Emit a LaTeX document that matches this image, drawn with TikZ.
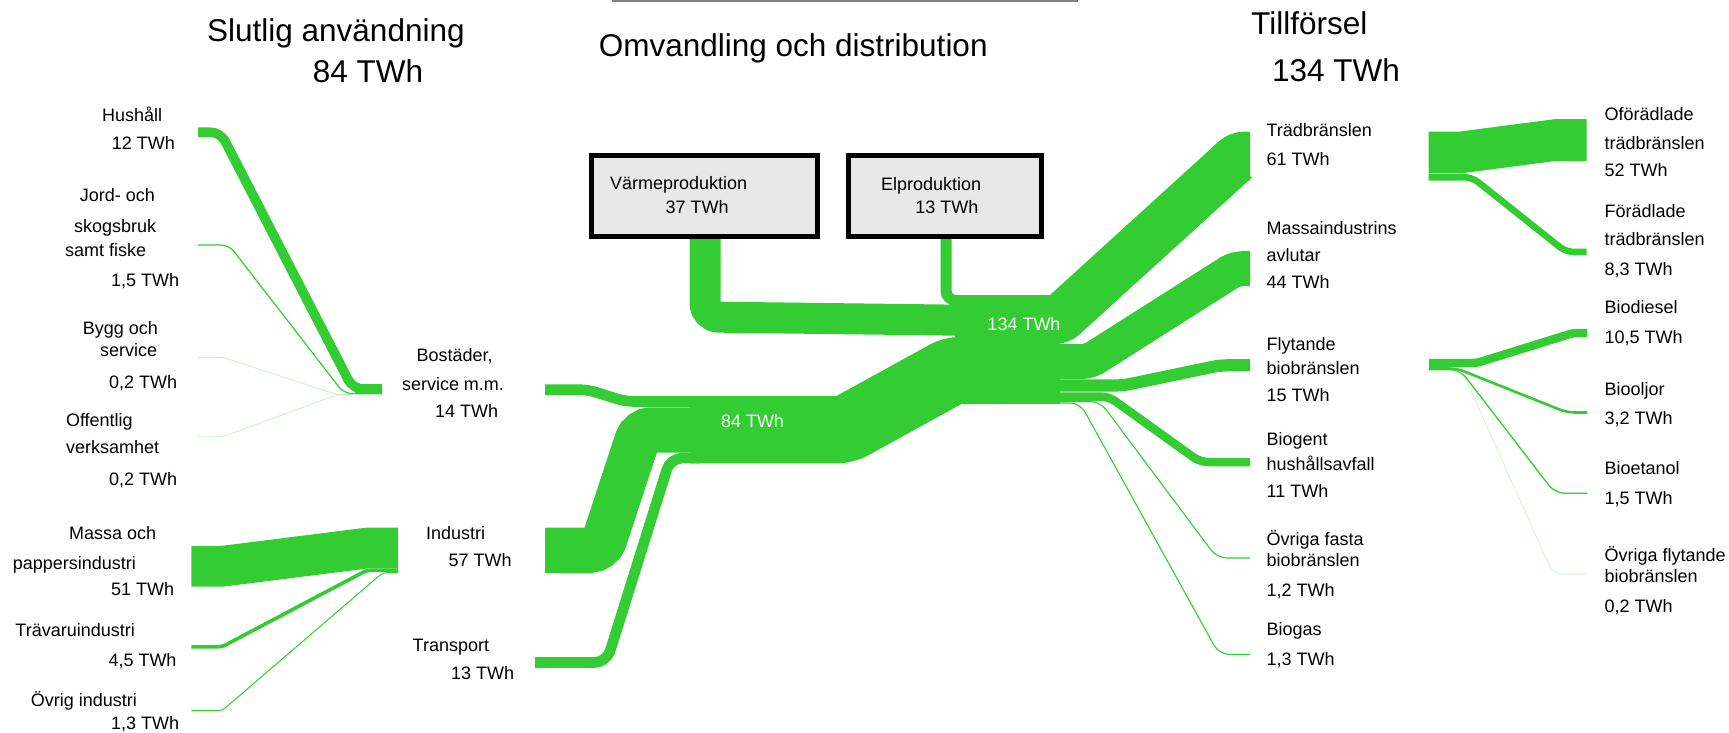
\documentclass[tikz,border=0pt]{standalone}
\usepackage{fontspec}
\setmainfont{Liberation Sans}
\definecolor{flowgreen}{RGB}{51,204,51}
\definecolor{paleg}{RGB}{196,240,196}
\definecolor{boxgray}{RGB}{232,232,232}
\newcommand\putlbl[4]{\node[lbl] (#1) at (#2,#3) {#4};}
\begin{document}
\begin{tikzpicture}[x=1pt,y=-1pt,
  lbl/.style={anchor=base west, inner sep=0pt, font=\fontsize{18}{20}\selectfont},
  ttl/.style={anchor=base west, inner sep=0pt, font=\fontsize{31.5}{34}\selectfont},
  inlbl/.style={inner sep=0pt, text=white, font=\fontsize{18}{20}\selectfont},
  flow/.style={draw=flowgreen, line cap=butt},
  faint/.style={draw=paleg, line cap=butt, line width=0.8pt},
  procbox/.style={draw=black, line width=5pt, fill=boxgray, minimum width=225.6pt, minimum height=81pt, inner sep=0pt},
]
\useasboundingbox (0,0) rectangle (1729,732);

% thin rule at the top
\draw[gray, line width=1.5pt] (612,0.8) -- (1078,0.8);

% ---------- end points of the flows ----------
\coordinate (hush-s) at (198,132.2);
\coordinate (jord-s) at (198,245);
\coordinate (bygg-s) at (198,357.3);
\coordinate (offe-s) at (198,436.7);
\coordinate (bost-hub) at (382,389);
\coordinate (massa-s) at (191.3,566.3);
\coordinate (trav-s) at (191.3,646.8);
\coordinate (ovri-s) at (191.3,710.7);
\coordinate (ind-hub) at (398,548);
\coordinate (bost-out) at (545,389.7);
\coordinate (ind-out) at (545,550.2);
\coordinate (tran-out) at (535,662.5);
\coordinate (band-s) at (690,429.7);
\coordinate (mid-hub) at (1000,370.5);
\coordinate (varme-out) at (705,237);
\coordinate (el-out) at (946,237);
\coordinate (hub-w) at (960,319.5);

% ---------- use side ----------
\draw[flow, line width=9.6pt, rounded corners=10pt] (hush-s) -- (220.5,132.2) -- (353,389) -- (bost-hub);
\draw[flow, line width=1.2pt, rounded corners=8pt] (jord-s) -- (229,245) -- (344,393.5) -- (382,394.3);
\draw[faint, rounded corners=4pt] (bygg-s) -- (223,357.3) -- (337,394.6) -- (382,394.6);
\draw[faint, rounded corners=4pt] (offe-s) -- (223,436.7) -- (337,394.8) -- (382,394.8);
\fill[flowgreen] (355,384.3) rectangle (382,394.4);

\draw[flow, line width=40.7pt] (massa-s) -- (222,566.3) -- (367.4,548) -- (ind-hub);
\draw[flow, line width=3.6pt, rounded corners=4pt] (trav-s) -- (222,646.8) -- (367,570.2) -- (398,570.2);
\draw[flow, line width=1pt, rounded corners=4pt] (ovri-s) -- (222,710.7) -- (383,572.5) -- (398,572.5);

% ---------- distribution ----------
\draw[flow, line width=67.3pt, rounded corners=8pt] (band-s) -- (845,429.7) -- (952.5,370.5) -- (mid-hub);
\draw[flow, line width=10.7pt, rounded corners=8pt] (bost-out) -- (588,389.7) -- (625,401.4) -- (700,401.4);
\draw[flow, line width=45.3pt, rounded corners=11pt] (ind-out) -- (601,550.2) -- (640.5,429.9) -- (700,429.9);
\draw[flow, line width=10.6pt, rounded corners=12pt] (tran-out) -- (606.5,662.5) -- (670.4,458) -- (700,458);

\draw[flow, line width=31pt, rounded corners=14pt] (varme-out) -- (705,317) -- (1000,320.7);
\draw[flow, line width=11pt, rounded corners=10pt] (el-out) -- (946,300.5) -- (1000,300.5);
\fill[flowgreen] (955,295) rectangle (1060,403.8);

% ---------- supply ----------
\coordinate (trad-e) at (1250,156.2);
\coordinate (avl-e) at (1250,268.7);
\coordinate (flyt-e) at (1250,365.3);
\coordinate (biog-e) at (1250,462);
\coordinate (ofast-e) at (1250,558);
\coordinate (gas-e) at (1250,654.3);
\draw[flow, line width=49pt, rounded corners=5pt] (hub-w) -- (1059.5,319.5) -- (1239,156.2) -- (trad-e);
\draw[flow, line width=35pt, rounded corners=7pt] (960,361.5) -- (1089,361.5) -- (1235.2,268.7) -- (avl-e);
\draw[flow, line width=12.2pt, rounded corners=8pt] (960,385.5) -- (1123,385.5) -- (1220,365.3) -- (flyt-e);
\draw[flow, line width=8.5pt, rounded corners=8pt] (960,396.5) -- (1108.7,396.5) -- (1200,462) -- (biog-e);
\draw[flow, line width=1.1pt, rounded corners=10pt] (960,401.5) -- (1100,401.5) -- (1217,558) -- (ofast-e);
\draw[flow, line width=1.1pt, rounded corners=10pt] (960,403) -- (1080,403) -- (1219,654.3) -- (gas-e);

% wood fuels split
\coordinate (trad-s) at (1428.6,152.5);
\draw[flow, line width=41.6pt] (trad-s) -- (1460,152.5) -- (1555.6,140) -- (1586.7,140);
\draw[flow, line width=6.6pt, rounded corners=8pt] (1428.6,177.2) -- (1472,177.2) -- (1566,252) -- (1586.7,252);
% liquid biofuels split
\coordinate (flyt-s) at (1429,363);
\draw[flow, line width=8.4pt, rounded corners=4pt] (flyt-s) -- (1476.7,363) -- (1573.3,333) -- (1587.3,333);
\draw[flow, line width=2.6pt, rounded corners=8pt] (1429,368.5) -- (1457,368.5) -- (1567,412.5) -- (1587.3,412.5);
\draw[flow, line width=1.3pt, rounded corners=10pt] (1429,369.8) -- (1460,369.8) -- (1555,493.3) -- (1587.3,493.3);
\draw[faint, line width=0.6pt, rounded corners=10pt] (1429,370.8) -- (1462,370.8) -- (1553,574) -- (1587.3,574);

% ---------- process boxes ----------
\node[procbox] (varme) at (704.3,196.3) {};
\node[procbox, minimum width=192.9pt] (el) at (945.2,196.3) {};
\putlbl{varme-a}{609.8}{189.3}{Värmeproduktion}
\putlbl{varme-b}{665.3}{213.3}{37 TWh}
\putlbl{el-a}{880.8}{190}{Elproduktion}
\putlbl{el-b}{915.2}{213.3}{13 TWh}

% values on the flows
\node[inlbl] (val84) at (752.5,420.7) {84 TWh};
\node[inlbl] (val134) at (1024,324) {134 TWh};

% ---------- headings ----------
\node[ttl] (t-use) at (207,41.5) {Slutlig användning};
\node[ttl] (t-use-v) at (312.7,82.7) {84 TWh};
\node[ttl] (t-conv) at (598.7,56.7) {Omvandling och distribution};
\node[ttl] (t-sup) at (1251,34.3) {Tillförsel};
\node[ttl] (t-sup-v) at (1272,81.7) {134 TWh};

% ---------- left labels ----------
\putlbl{hush-a}{102}{121.7}{Hushåll}
\putlbl{hush-b}{111.7}{149}{12 TWh}
\putlbl{jord-a}{79.6}{201.7}{Jord- och}
\putlbl{jord-b}{73.9}{232}{skogsbruk}
\putlbl{jord-c}{65}{256.7}{samt fiske}
\putlbl{jord-d}{111}{286.7}{1,5 TWh}
\putlbl{bygg-a}{82.7}{334}{Bygg och}
\putlbl{bygg-b}{100}{356}{service}
\putlbl{bygg-c}{109}{388.3}{0,2 TWh}
\putlbl{offe-a}{65.8}{426.7}{Offentlig}
\putlbl{offe-b}{65.8}{453.3}{verksamhet}
\putlbl{offe-c}{109}{485}{0,2 TWh}
\putlbl{massa-a}{68.9}{539}{Massa och}
\putlbl{massa-b}{12.6}{569.3}{pappersindustri}
\putlbl{massa-c}{111}{595}{51 TWh}
\putlbl{trav-a}{15.3}{636}{Trävaruindustri}
\putlbl{trav-b}{108.3}{666}{4,5 TWh}
\putlbl{ovri-a}{30.6}{706}{Övrig industri}
\putlbl{ovri-b}{111}{729.5}{1,3 TWh}

% ---------- sector labels ----------
\putlbl{bost-a}{416.4}{361.7}{Bostäder,}
\putlbl{bost-b}{401.8}{390}{service m.m.}
\putlbl{bost-c}{435}{417.7}{14 TWh}
\putlbl{ind-a}{426}{539}{Industri}
\putlbl{ind-b}{448.5}{566.7}{57 TWh}
\putlbl{tran-a}{412.5}{651.7}{Transport}
\putlbl{tran-b}{451}{679.3}{13 TWh}

% ---------- supply labels ----------
\putlbl{trad-a}{1266.4}{136.7}{Trädbränslen}
\putlbl{trad-b}{1266.4}{165}{61 TWh}
\putlbl{avl-a}{1266.4}{234.3}{Massaindustrins}
\putlbl{avl-b}{1266.4}{261}{avlutar}
\putlbl{avl-c}{1266.4}{288.3}{44 TWh}
\putlbl{flyt-a}{1266.4}{350}{Flytande}
\putlbl{flyt-b}{1266.4}{374}{biobränslen}
\putlbl{flyt-c}{1266.4}{401.7}{15 TWh}
\putlbl{biog-a}{1266.4}{445.7}{Biogent}
\putlbl{biog-b}{1266.4}{470.7}{hushållsavfall}
\putlbl{biog-c}{1266.4}{497.7}{11 TWh}
\putlbl{ofast-a}{1266.4}{545.7}{Övriga fasta}
\putlbl{ofast-b}{1266.4}{566.7}{biobränslen}
\putlbl{ofast-c}{1266.4}{596.7}{1,2 TWh}
\putlbl{gas-a}{1266.4}{635.7}{Biogas}
\putlbl{gas-b}{1266.4}{665.7}{1,3 TWh}

\putlbl{ofor-a}{1604.4}{120.7}{Oförädlade}
\putlbl{ofor-b}{1604.4}{149}{trädbränslen}
\putlbl{ofor-c}{1604.4}{176.7}{52 TWh}
\putlbl{for-a}{1604.4}{217.7}{Förädlade}
\putlbl{for-b}{1604.4}{245}{trädbränslen}
\putlbl{for-c}{1604.4}{275.7}{8,3 TWh}
\putlbl{bdie-a}{1604.4}{313.3}{Biodiesel}
\putlbl{bdie-b}{1604.4}{343.3}{10,5 TWh}
\putlbl{bolj-a}{1604.4}{395}{Biooljor}
\putlbl{bolj-b}{1604.4}{424.3}{3,2 TWh}
\putlbl{beta-a}{1604.4}{474.3}{Bioetanol}
\putlbl{beta-b}{1604.4}{504.3}{1,5 TWh}
\putlbl{oflyt-a}{1604.4}{561.7}{Övriga flytande}
\putlbl{oflyt-b}{1604.4}{582.7}{biobränslen}
\putlbl{oflyt-c}{1604.4}{612.3}{0,2 TWh}
\end{tikzpicture}
\end{document}
